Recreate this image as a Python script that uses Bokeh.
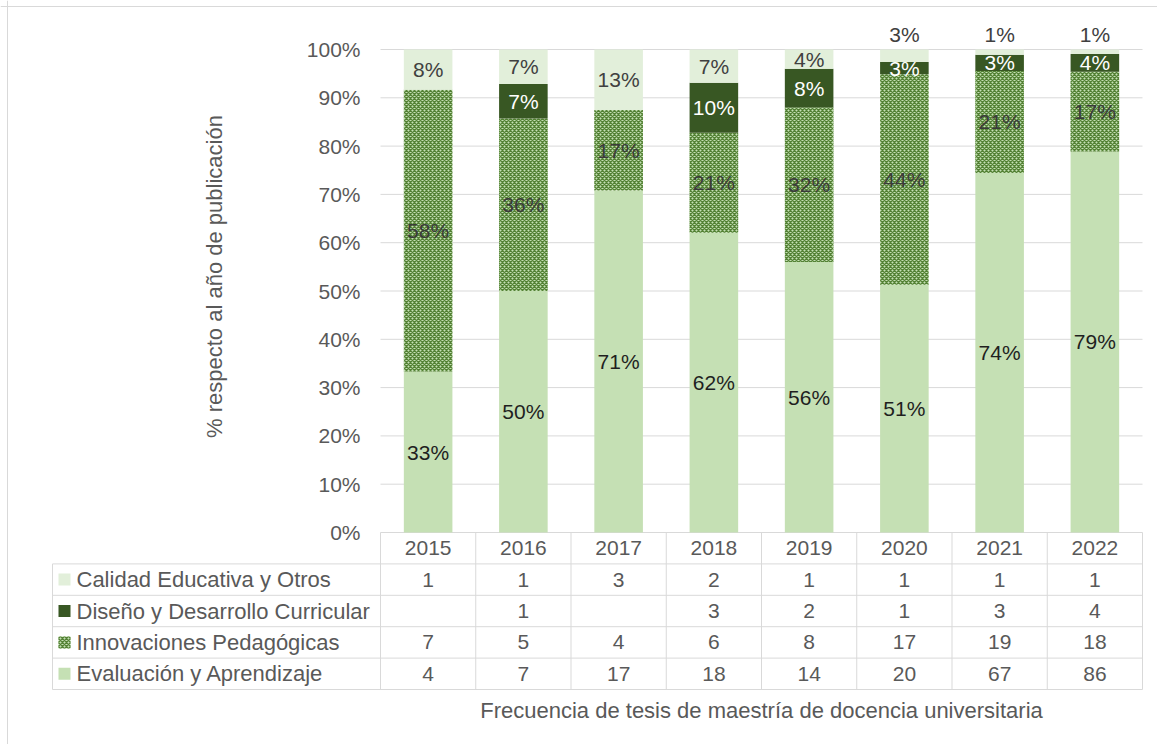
import math
from bokeh.plotting import figure
from bokeh.models import (ColumnDataSource, FixedTicker, NumeralTickFormatter,
                          Range1d, LinearAxis, Span)
from bokeh.core.properties import value
from bokeh.embed import file_html
from bokeh.resources import INLINE

# ---------------- data ----------------
years = ["2015", "2016", "2017", "2018", "2019", "2020", "2021", "2022"]
series_names = ["Calidad Educativa y Otros", "Diseño y Desarrollo Curricular",
                "Innovaciones Pedagógicas", "Evaluación y Aprendizaje"]
calidad = [1, 1, 3, 2, 1, 1, 1, 1]
diseno = [None, 1, None, 3, 2, 1, 3, 4]
innovaciones = [7, 5, 4, 6, 8, 17, 19, 18]
evaluacion = [4, 7, 17, 18, 14, 20, 67, 86]
y_ticks = [0, 0.1, 0.2, 0.3, 0.4, 0.5, 0.6, 0.7, 0.8, 0.9, 1.0]
y_title = "% respecto al año de publicación"
x_title = "Frecuencia de tesis de maestría de docencia universitaria"

# ---------------- style ----------------
FONT = value("Liberation Sans")
TXT = "#595959"
GRID = "#d9d9d9"
C_EVAL = "#c5e0b4"
C_CAL = "#e2efda"
C_DIS = "#385723"
C_INN_BG = "#c5e0b4"
C_INN_FG = "#548235"

# ---------------- geometry (pixels -> data units) ----------------
W, H = 1157, 744
ncol = len(years)
X0_PX, X1_PX = 380, 1142         # category area
Y0_PX, Y100_PX = 532, 49         # 0% and 100% lines
COL_PX = (X1_PX - X0_PX) / ncol
UNIT_PX = Y0_PX - Y100_PX
ROW_PX = 31.4


def X(px):
    return (px - X0_PX) / COL_PX


def Y(py):
    return (Y0_PX - py) / UNIT_PX


ROW = ROW_PX / UNIT_PX

p = figure(x_range=Range1d(X(0), X(W)), y_range=Range1d(Y(H), Y(0)),
           frame_width=W, frame_height=H,
           min_border_left=0, min_border_right=0, min_border_top=0, min_border_bottom=0,
           x_axis_type=None, y_axis_type=None,
           toolbar_location=None, output_backend="svg",
           background_fill_color="white", border_fill_color="white")
p.outline_line_color = None
p.grid.visible = False

# outer chart border (left and top edges visible)
p.add_layout(Span(location=X(7), dimension="height", line_color="#d9d9d9", line_width=1))
p.add_layout(Span(location=Y(6), dimension="width", line_color="#d9d9d9", line_width=1))

# gridlines over the category area
p.segment(x0=[0] * len(y_ticks), x1=[ncol] * len(y_ticks), y0=y_ticks, y1=y_ticks,
          line_color=GRID, line_width=1)

# y axis fixed at the left edge of the category area
yax = LinearAxis(fixed_location=0, ticker=FixedTicker(ticks=y_ticks),
                 formatter=NumeralTickFormatter(format="0%"), bounds=(0, Y(20)))
yax.axis_line_color = None
yax.major_tick_line_color = None
yax.minor_tick_line_color = None
yax.major_label_standoff = 14
yax.major_label_text_font = "Liberation Sans"
yax.major_label_text_font_size = "21px"
yax.major_label_text_color = TXT
yax.axis_label = y_title
yax.axis_label_text_font = "Liberation Sans"
yax.axis_label_text_font_size = "22px"
yax.axis_label_text_font_style = "normal"
yax.axis_label_text_color = TXT
yax.axis_label_standoff = 77
p.add_layout(yax, "left")

# ---------------- stacked percentage bars ----------------
stack = [("eval", evaluacion, C_EVAL, "#1f1f1f"),
         ("inn", innovaciones, C_INN_BG, "#3a3a3a"),
         ("dis", diseno, C_DIS, "#ffffff"),
         ("cal", calidad, C_CAL, "#404040")]
totals = [sum(v or 0 for v in vals) for vals in zip(evaluacion, innovaciones, diseno, calidad)]
xc = [i + 0.5 for i in range(ncol)]

cum = [0.0] * ncol
lab_x, lab_y, lab_t, lab_c, lab_off = [], [], [], [], []
for key, vals, color, tcolor in stack:
    bottoms, tops = [], []
    for i, v in enumerate(vals):
        frac = (v or 0) / totals[i]
        bottoms.append(cum[i])
        tops.append(cum[i] + frac)
        if v:
            pct = int(math.floor(100 * v / totals[i] + 0.5))
            if key == "cal" and frac < 0.03:
                lab_y.append(cum[i] + frac)
                lab_off.append(-15)
            else:
                lab_y.append(cum[i] + frac / 2)
                lab_off.append(0)
            lab_x.append(xc[i])
            lab_t.append(f"{pct}%")
            lab_c.append(tcolor)
        cum[i] += frac
    src = ColumnDataSource(dict(x=xc, bottom=bottoms, top=tops))
    if key == "inn":
        p.vbar(x="x", bottom="bottom", top="top", width=0.51, source=src,
               fill_color=C_INN_BG, line_color=None, hatch_pattern="diagonal_cross",
               hatch_color=C_INN_FG, hatch_scale=4, hatch_weight=1.4)
    else:
        p.vbar(x="x", bottom="bottom", top="top", width=0.51, source=src,
               fill_color=color, line_color=None)

lsrc = ColumnDataSource(dict(x=lab_x, y=lab_y, t=lab_t, c=lab_c, off=lab_off))
p.text(x="x", y="y", text="t", text_color="c", y_offset="off", source=lsrc,
       text_align="center", text_baseline="middle", text_font=FONT,
       text_font_size="21px")

# ---------------- data table ----------------
nrows = len(series_names)
LABEL_LEFT = X(52)

x0s, y0s, x1s, y1s = [], [], [], []
for r in range(1, nrows + 2):
    x0s.append(LABEL_LEFT); y0s.append(-r * ROW); x1s.append(ncol); y1s.append(-r * ROW)
x0s.append(LABEL_LEFT); y0s.append(-ROW); x1s.append(LABEL_LEFT); y1s.append(-(nrows + 1) * ROW)
for c in range(ncol + 1):
    x0s.append(c); y0s.append(0); x1s.append(c); y1s.append(-(nrows + 1) * ROW)
p.segment(x0=x0s, y0=y0s, x1=x1s, y1=y1s, line_color=GRID, line_width=1)

p.text(x=xc, y=[-0.5 * ROW] * ncol, text=years,
       text_align="center", text_baseline="middle", text_font=FONT,
       text_font_size="21px", text_color=TXT)

rows = [calidad, diseno, innovaciones, evaluacion]
key_fill = [C_CAL, C_DIS, C_INN_BG, C_EVAL]
for r, (name, vals) in enumerate(zip(series_names, rows)):
    yy = -(r + 1.5) * ROW
    kx = LABEL_LEFT + 12 / COL_PX
    if name.startswith("Innov"):
        p.rect(x=[kx], y=[yy], width=12, height=12,
               width_units="screen", height_units="screen",
               fill_color=C_INN_BG, line_color=None, hatch_pattern="diagonal_cross",
               hatch_color=C_INN_FG, hatch_scale=4, hatch_weight=1.4)
    else:
        p.rect(x=[kx], y=[yy], width=12, height=12,
               width_units="screen", height_units="screen",
               fill_color=key_fill[r], line_color=None)
    p.text(x=[LABEL_LEFT + 24 / COL_PX], y=[yy], text=[name],
           text_align="left", text_baseline="middle", text_font=FONT,
           text_font_size="22px", text_color=TXT)
    xs = [xc[i] for i, v in enumerate(vals) if v is not None]
    ts = [str(v) for v in vals if v is not None]
    p.text(x=xs, y=[yy] * len(xs), text=ts, text_align="center",
           text_baseline="middle", text_font=FONT, text_font_size="21px",
           text_color=TXT)

p.text(x=[ncol / 2], y=[Y(710)], text=[x_title], text_align="center",
       text_baseline="middle", text_font=FONT, text_font_size="22px",
       text_color=TXT)

open("out.html", "w").write(file_html(p, INLINE))
